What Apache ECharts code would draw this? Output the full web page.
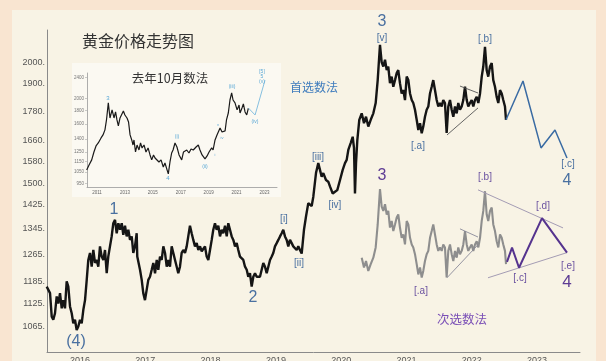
<!DOCTYPE html>
<html><head><meta charset="utf-8">
<script src="https://cdn.jsdelivr.net/npm/echarts@6/dist/echarts.min.js"></script>
<style>html,body{margin:0;padding:0;background:#f9e5d1}#c{width:606px;height:361px}</style>
</head><body><div id="c"></div>
<script>
// ---- main gold price (decimal year, USD/oz) ----
const priceDates = [2015.490,2015.541,2015.567,2015.591,2015.617,2015.643,2015.668,2015.694,2015.720,2015.744,2015.770,2015.796,2015.821,2015.847,2015.873,2015.897,2015.923,2015.949,2015.974,
2016.000,2016.026,2016.051,2016.077,2016.103,2016.127,2016.153,2016.179,2016.204,2016.230,2016.256,2016.280,2016.306,2016.332,2016.357,2016.383,2016.409,2016.433,2016.459,2016.485,2016.510,2016.536,2016.562,2016.587,2016.613,2016.639,2016.663,2016.689,2016.715,2016.740,2016.766,2016.792,2016.816,2016.842,2016.868,2016.877,2016.919,2016.945,2016.969,2016.995,
2017.021,2017.046,2017.072,2017.098,2017.123,2017.149,2017.175,2017.199,2017.225,2017.251,2017.276,2017.302,2017.328,2017.352,2017.378,2017.404,2017.429,2017.455,2017.481,2017.505,2017.531,2017.557,2017.582,2017.608,2017.634,2017.658,2017.684,2017.710,2017.735,2017.761,2017.787,2017.812,2017.838,2017.864,2017.888,2017.914,2017.940,2017.965,2017.991,
2018.017,2018.041,2018.067,2018.093,2018.118,2018.144,2018.170,2018.194,2018.221,2018.247,2018.271,2018.297,2018.323,2018.348,2018.374,2018.400,2018.424,2018.450,2018.476,2018.501,2018.527,2018.553,2018.577,2018.603,2018.629,2018.654,2018.680,2018.706,2018.730,2018.756,2018.782,2018.807,2018.833,2018.859,2018.884,2018.910,2018.936,2018.960,2018.986,
2019.012,2019.037,2019.063,2019.089,2019.113,2019.139,2019.165,2019.190,2019.216,2019.242,2019.266,2019.292,2019.318,2019.343,2019.369,2019.395,2019.430,2019.461,2019.496,2019.548,2019.573,2019.614,2019.649,2019.675,2019.701,2019.726,2019.767,2019.802,2019.828,2019.870,2019.905,2019.940,2019.982,
2020.023,2020.058,2020.084,2020.109,2020.145,2020.176,2020.196,2020.211,2020.227,2020.247,2020.277,2020.314,2020.349,2020.380,2020.415,2020.452,2020.492,2020.528,2020.559,2020.579,2020.594,2020.620,2020.645,2020.671,2020.697,2020.721,2020.747,2020.773,2020.798,2020.824,2020.850,2020.874,2020.900,2020.926,2020.951,2020.977,
2021.003,2021.028,2021.054,2021.080,2021.104,2021.130,2021.156,2021.181,2021.207,2021.233,2021.257,2021.283,2021.309,2021.334,2021.360,2021.386,2021.410,2021.436,2021.462,2021.487,2021.513,2021.539,2021.563,2021.589,2021.615,2021.640,2021.666,2021.692,2021.717,2021.743,2021.769,2021.793,2021.819,2021.845,2021.870,2021.896,2021.922,2021.946,2021.972,2021.998,
2022.023,2022.049,2022.075,2022.100,2022.126,2022.152,2022.176,2022.202,2022.228,2022.252,2022.279,2022.305,2022.329,2022.355,2022.381,2022.406,2022.432,2022.458,2022.482,2022.508,2022.524];
const priceValues = [1172,1154,1091,1083,1100,1145,1126,1154,1113,1135,1113,1187,1172,1118,1100,1074,1083,1057,1066,
1083,1074,1109,1135,1191,1249,1270,1229,1279,1240,1249,1229,1290,1259,1249,1279,1210,1259,1290,1321,1363,1374,1331,1363,1342,1363,1326,1355,1321,1342,1310,1321,1270,1290,1331,1259,1220,1191,1154,1135,
1163,1191,1200,1220,1240,1210,1249,1220,1259,1249,1290,1270,1229,1249,1229,1290,1270,1249,1229,1210,1229,1270,1279,1270,1290,1321,1355,1331,1310,1290,1300,1279,1290,1275,1279,1290,1259,1249,1279,
1310,1342,1363,1342,1355,1321,1342,1331,1355,1321,1363,1342,1321,1310,1290,1300,1279,1259,1259,1249,1229,1220,1200,1210,1172,1200,1210,1200,1205,1200,1220,1240,1229,1210,1229,1249,1259,1270,1290,
1300,1310,1321,1331,1342,1321,1310,1290,1310,1300,1290,1285,1279,1290,1279,1268,1342,1385,1430,1420,1452,1536,1573,1548,1523,1536,1511,1505,1488,1463,1469,1475,1511,
1548,1573,1585,1623,1650,1675,1631,1463,1573,1662,1744,1771,1730,1757,1716,1744,1771,1815,1917,2012,2085,2000,1980,2012,1963,1980,1903,1933,1887,1917,1949,1963,1903,1857,1872,1828,
1933,1917,1857,1828,1815,1786,1744,1702,1730,1689,1716,1757,1786,1800,1857,1887,1917,1872,1828,1800,1815,1800,1828,1815,1690,1800,1828,1786,1757,1800,1771,1815,1786,1800,1828,1887,1828,1800,1815,1828,
1800,1828,1842,1815,1857,1933,1980,2075,1963,1933,1980,1996,1917,1887,1842,1815,1872,1857,1828,1800,1744];
const yTicks = [1065,1125,1185,1265,1345,1425,1500,1580,1660,1780,1900,2000];
const yearTicks = [2016,2017,2018,2019,2020,2021,2022,2023];

// ---- preferred count (首选数法) projection and triangle ----
const projMainDates = [2022.524,2022.784,2023.060,2023.274,2023.458];
const projMainValues = [1744,1913,1631,1702,1592];
const triMainLowerDates = [2021.620,2022.095], triMainLowerValues = [1682,1794];
const triMainUpperDates = [2021.819,2022.095], triMainUpperValues = [1890,1859];

// ---- alternative count (次选数法): copy of price from wave 3, shifted down ----
const altStartDate = 2020.31;
const altScale = 0.709;
const projAltDates = [2022.539,2022.616,2022.723,2023.075,2023.458];
const projAltValues = [1243,1286,1226,1380,1271];
const triAltLowerDates = [2021.620,2022.095], triAltLowerValues = [1197,1295];
const triAltUpperDates = [2021.819,2022.095], triAltUpperValues = [1345,1319];
const bigTriUpperDates = [2022.095,2023.397], bigTriUpperValues = [1476,1348];
const bigTriLowerDates = [2022.248,2023.458], bigTriLowerValues = [1197,1271];

// ---- inset: 去年10月数法 ----
const insetDates = [2010.26,2010.43,2010.62,2010.78,2010.93,2011.09,2011.29,2011.43,2011.57,2011.68,2011.81,2011.93,2012.08,2012.22,2012.33,2012.43,2012.53,2012.65,2012.89,2013.00,2013.15,2013.26,2013.37,2013.49,2013.58,2013.65,2013.76,2013.87,2014.01,2014.12,2014.23,2014.37,2014.51,2014.66,2014.80,2014.92,2015.05,2015.16,2015.30,2015.44,2015.59,2015.75,2015.87,2016.02,2016.11,2016.23,2016.35,2016.45,2016.59,2016.73,2016.88,2017.07,2017.20,2017.43,2017.59,2017.74,2017.90,2018.10,2018.26,2018.38,2018.53,2018.74,2018.89,2019.03,2019.22,2019.32,2019.46,2019.60,2019.82,2019.96,2020.18,2020.28,2020.41,2020.53,2020.65,2020.75,2020.89,2021.04,2021.18,2021.25,2021.39,2021.49,2021.61,2021.73,2021.85];
const insetValues = [1069,1116,1167,1251,1319,1354,1415,1453,1519,1657,1925,1686,1810,1686,1778,1657,1572,1686,1793,1731,1686,1628,1453,1390,1330,1390,1251,1330,1273,1354,1296,1330,1251,1296,1219,1167,1219,1187,1208,1146,1167,1097,1136,1069,1032,1146,1240,1273,1354,1307,1219,1167,1251,1273,1240,1285,1273,1307,1330,1273,1219,1177,1208,1251,1296,1273,1390,1453,1545,1491,1505,1657,1761,1974,2100,1974,1925,1810,1890,1761,1840,1908,1778,1731,1840];
const insetProjDates = [2021.85,2022.33,2023.04];
const insetProjValues = [1840,1731,2349];
const insetYearTicks = [2011,2013,2015,2017,2019,2021,2023];
const insetYTicks = [950,1050,1150,1250,1400,1600,1800,2000,2400];

const L = v => Math.log10(v);
const pairs = (d, v, k = 1) => d.map((x, i) => [x, L(v[i] * k)]);
const altPairs = priceDates.map((d, i) => [d, priceValues[i]]).filter(p => p[0] >= altStartDate).map(p => [p[0], L(p[1] * altScale)]);

const LAT = '"Liberation Sans", Arial, sans-serif';
const CJK = '"Noto Sans CJK SC", "Liberation Sans", sans-serif';
const BLUE = '#4a70a0', PURPLE = '#5e3c94';

const annotations = [
  ['(4)',76,342,16,BLUE],['1',114,210,16,BLUE],['2',253,298,16,BLUE],
  ['[i]',284,219,10,BLUE],['[ii]',299,263,10,BLUE],['[iii]',318,157,10,BLUE],['[iv]',335,205,10,BLUE],
  ['3',382,22,16,BLUE],['[v]',382,38,10,BLUE],['[.a]',418,146,10,BLUE],['[.b]',485,39,10,BLUE],
  ['[.c]',568,164,10,BLUE],['4',567,181,16,BLUE],
  ['3',382,176,16,PURPLE],['[.b]',485,177,10,'#6b52a0'],['[.a]',421,291,10,'#6b52a0'],['[.c]',520,278,10,'#6b52a0'],
  ['[.d]',543,206,10,'#6b52a0'],['[.e]',568,266,10,'#6b52a0'],['4',567,282,17,PURPLE],
  ['3',108,98,6,'#5aa8d6'],['4',168,178,6,'#5aa8d6'],['(i)',177,137,5,'#5aa8d6'],['(ii)',205,167,5,'#5aa8d6'],
  ['(iii)',232,87,5,'#5aa8d6'],['(iv)',255,122,5,'#5aa8d6'],['[5]',262,72,5,'#5aa8d6'],['5',262,77,5,'#5aa8d6'],['(v)',262,82,5,'#5aa8d6'],
  ['v',218,125,4,'#5aa8d6'],['iv',222,138,4,'#5aa8d6'],['i',215,155,4,'#5aa8d6']
];

const textEl = (t, x, y, size, color, fam) => ({
  type: 'text', x, y, z: 100, silent: true,
  style: { text: t, fill: color, font: size + 'px ' + (fam || LAT), align: 'center', verticalAlign: 'middle', textAlign: 'center', textVerticalAlign: 'middle' }
});

const chart = echarts.init(document.getElementById('c'), null, { renderer: 'canvas' });
const line = (data, color, width, xi, extra) => Object.assign({
  type: 'line', data, xAxisIndex: xi, yAxisIndex: xi, showSymbol: false, symbol: 'none', silent: true,
  lineStyle: { color, width }, z: 3
}, extra || {});

chart.setOption({
  animation: false,
  backgroundColor: '#f9e5d1',
  title: { text: '黄金价格走势图', left: 77, top: 28, textStyle: { fontFamily: CJK, fontSize: 16, fontWeight: 'normal', color: '#333' } },
  grid: [
    { left: 47, top: 30, width: 533, height: 322, containLabel: false, outerBoundsMode: 'none' },
    { left: 87, top: 73, width: 190, height: 114, containLabel: false, outerBoundsMode: 'none' }
  ],
  xAxis: [
    { type: 'value', gridIndex: 0, min: 2015.4946, max: 2023.657, splitLine: { show: false },
      axisLine: { lineStyle: { color: '#8a8a8a' } }, axisTick: { show: false },
      axisLabel: { customValues: yearTicks, color: '#555', fontSize: 9, fontFamily: LAT, margin: 4, formatter: v => String(Math.round(v)) } },
    { type: 'value', gridIndex: 1, min: 2010.283, max: 2023.9, splitLine: { show: false },
      axisLine: { lineStyle: { color: '#999', width: 0.8 } }, axisTick: { show: false },
      axisLabel: { customValues: insetYearTicks, color: '#666', fontSize: 4.5, fontFamily: LAT, margin: 3, formatter: v => String(Math.round(v)) } }
  ],
  yAxis: [
    { type: 'value', gridIndex: 0, min: L(1003), max: L(2160), splitLine: { show: false },
      axisLine: { show: true, lineStyle: { color: '#8a8a8a' } }, axisTick: { show: false },
      axisLabel: { customValues: yTicks.map(L), color: '#555', fontSize: 9, fontFamily: LAT, margin: 2, formatter: v => Math.round(Math.pow(10, v)) + '.' } },
    { type: 'value', gridIndex: 1, min: L(920), max: L(2502), splitLine: { show: false },
      axisLine: { show: true, lineStyle: { color: '#999', width: 0.8 } },
      axisTick: { show: true, customValues: insetYTicks.map(L), length: 2, lineStyle: { color: '#aaa', width: 0.6 } },
      axisLabel: { customValues: insetYTicks.map(L), color: '#777', fontSize: 4.5, fontFamily: LAT, margin: 3, formatter: v => String(Math.round(Math.pow(10, v))) } }
  ],
  series: [
    line(pairs(priceDates, priceValues), '#151515', 2.4, 0),
    line(altPairs, '#8e8e8e', 2.1, 0),
    line(pairs(triMainLowerDates, triMainLowerValues), '#555', 0.9, 0),
    line(pairs(triMainUpperDates, triMainUpperValues), '#555', 0.9, 0),
    line(pairs(triAltLowerDates, triAltLowerValues), '#8a8a9a', 0.9, 0),
    line(pairs(triAltUpperDates, triAltUpperValues), '#8a8a9a', 0.9, 0),
    line(pairs(bigTriUpperDates, bigTriUpperValues), '#a49cb4', 1, 0),
    line(pairs(bigTriLowerDates, bigTriLowerValues), '#a49cb4', 1, 0),
    line(pairs(projMainDates, projMainValues), '#3a6ba3', 1.5, 0),
    line(pairs(projAltDates, projAltValues), '#55338e', 2, 0),
    line(pairs(insetDates, insetValues), '#1a1a1a', 1.2, 1),
    line(pairs(insetProjDates, insetProjValues), '#86c0e0', 1, 1)
  ],
  graphic: {
    elements: [
      { type: 'rect', z: -100, silent: true, shape: { x: 12, y: 10, width: 584, height: 351 }, style: { fill: '#f8f3e5' } },
      { type: 'rect', z: -90, silent: true, shape: { x: 72, y: 63, width: 209, height: 134 }, style: { fill: '#fbf9f2' } },
      textEl('去年10月数法', 170, 78, 12.5, '#333', CJK),
      textEl('首选数法', 314, 87, 12, '#3f7cbd', CJK),
      textEl('次选数法', 462, 319, 12.5, '#7a4fb6', CJK)
    ].concat(annotations.map(a => textEl(a[0], a[1], a[2], a[3], a[4])))
  }
});
</script></body></html>
